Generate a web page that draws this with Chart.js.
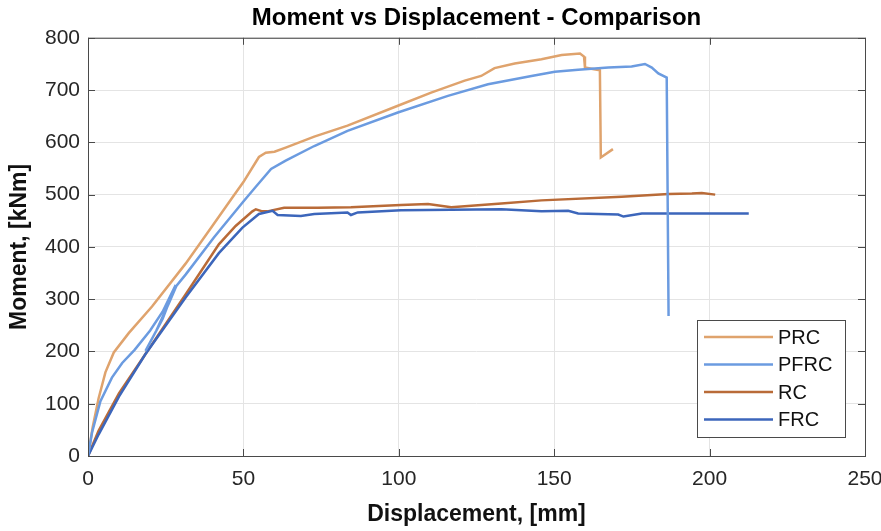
<!DOCTYPE html>
<html>
<head>
<meta charset="utf-8">
<script src="https://cdn.jsdelivr.net/npm/chart.js@4.4.1/dist/chart.umd.min.js"></script>
<style>
  html, body { margin: 0; padding: 0; background: #fff; }
  #wrap { width: 881px; height: 531px; }
</style>
</head>
<body>
<div id="wrap"><canvas id="momentChart"></canvas></div>
<script>
// Moment vs displacement curves
const prcX = [0, 1.5, 3.4, 5.6, 8.3, 13.1, 20.6, 31.4, 40, 46.4, 50, 55, 57.2, 60, 63.6, 72.8, 83.5, 99.7, 110.4, 121.2, 126.5, 130.8, 137.3, 145.9, 152.4, 158.3, 159.6, 159.9, 164.7, 165, 168.9];
const prcY = [0, 55, 110, 160, 198, 235, 286, 368, 440, 494, 524, 572, 580, 582, 590, 611, 632, 670, 695, 718, 727, 742, 751, 759, 767, 770, 764, 743, 738, 571, 587];

const pfrcX = [0, 1.3, 4, 7.7, 11, 15, 20, 24, 28.2, 24, 18.5, 22, 26, 28.5, 31.4, 40.5, 50, 54, 58.9, 63.6, 72.8, 83.5, 99.7, 115.8, 128.7, 142.7, 150.2, 157.7, 167.4, 174.9, 179.2, 181.4, 183.5, 186.2, 186.8];
const pfrcY = [0, 45, 105, 150, 178, 203, 240, 276, 327, 262, 201, 240, 292, 326, 347, 418, 487, 515, 549, 565, 593, 622, 657, 689, 711, 727, 735, 739, 743, 745, 750, 743, 732, 724, 268];

const rcX = [0, 3.4, 10, 18.5, 31.4, 42.1, 47.5, 52.9, 54, 56.1, 57.7, 63.1, 73.9, 84.6, 100.7, 109.4, 116.9, 133, 145.9, 171.7, 186.8, 194.3, 197.5, 201.8];
const rcY = [0, 48, 120, 195, 309, 405, 440, 468, 472, 468, 468, 475, 475, 476, 480, 482, 476, 483, 489, 496, 501, 502, 503, 500];

const frcX = [0, 3.4, 10, 18.5, 31.4, 42.1, 49.7, 55, 59.4, 61, 68.5, 72.8, 83.5, 84.6, 86.8, 100.7, 133, 145.9, 154.5, 157.7, 170.6, 172.3, 178.2, 212.6];
const frcY = [0, 41, 114, 195, 303, 388, 437, 463, 469, 461, 459, 463, 466, 461, 466, 470, 472, 468, 469, 464, 462, 458, 464, 464];

const xTicks = [0, 50, 100, 150, 200, 250];
const yTicks = [0, 100, 200, 300, 400, 500, 600, 700, 800];

const toPoints = (xs, ys) => xs.map((x, i) => ({ x: x, y: ys[i] }));

function makeSet(label, xs, ys, color, order) {
  return {
    label: label,
    data: toPoints(xs, ys),
    borderColor: color,
    backgroundColor: color,
    borderWidth: 2.5,
    pointRadius: 0,
    tension: 0,
    fill: false,
    order: order
  };
}

// MATLAB-like box with inward ticks + in-axes legend
const boxPlugin = {
  id: 'boxAndLegend',
  afterDatasetsDraw(chart) {
    const ctx = chart.ctx;
    const a = chart.chartArea;
    const xs = chart.scales.x, ys = chart.scales.y;
    ctx.save();
    ctx.strokeStyle = '#4a4a4a';
    ctx.lineWidth = 1;
    ctx.strokeRect(a.left + 0.5, a.top + 0.5, a.right - a.left, a.bottom - a.top);
    ctx.beginPath();
    xTicks.forEach(v => {
      const px = Math.round(xs.getPixelForValue(v)) + 0.5;
      ctx.moveTo(px, a.bottom); ctx.lineTo(px, a.bottom - 7);
      ctx.moveTo(px, a.top); ctx.lineTo(px, a.top + 7);
    });
    yTicks.forEach(v => {
      const py = Math.round(ys.getPixelForValue(v)) + 0.5;
      ctx.moveTo(a.left, py); ctx.lineTo(a.left + 7, py);
      ctx.moveTo(a.right, py); ctx.lineTo(a.right - 7, py);
    });
    ctx.stroke();

    // legend
    const w = 148, h = 117;
    const lx = a.right - 20 - w, ly = a.bottom - 19 - h;
    ctx.fillStyle = '#fff';
    ctx.fillRect(lx, ly, w, h);
    ctx.strokeStyle = '#4a4a4a';
    ctx.strokeRect(lx + 0.5, ly + 0.5, w, h);
    ctx.font = '20px "Liberation Sans", Arial, sans-serif';
    ctx.textBaseline = 'middle';
    chart.data.datasets.forEach((ds, i) => {
      const cy = ly + 17 + i * 27.5;
      ctx.strokeStyle = ds.borderColor;
      ctx.lineWidth = 2.5;
      ctx.beginPath();
      ctx.moveTo(lx + 7, cy); ctx.lineTo(lx + 76, cy);
      ctx.stroke();
      ctx.fillStyle = '#111';
      ctx.fillText(ds.label, lx + 81, cy + 1);
    });
    ctx.restore();
  }
};

new Chart(document.getElementById('momentChart'), {
  type: 'line',
  data: {
    datasets: [
      makeSet('PRC', prcX, prcY, '#dfa36d', 2),
      makeSet('PFRC', pfrcX, pfrcY, '#6b9be0', 0),
      makeSet('RC', rcX, rcY, '#b96b38', 3),
      makeSet('FRC', frcX, frcY, '#3c66bb', 1)
    ]
  },
  options: {
    responsive: true,
    maintainAspectRatio: false,
    animation: false,
    layout: { padding: { left: 0, right: 16, top: 0, bottom: 0 } },
    plugins: {
      legend: { display: false },
      tooltip: { enabled: false },
      title: {
        display: true,
        fullSize: false,
        text: 'Moment vs Displacement - Comparison',
        color: '#000',
        font: { family: '"Liberation Sans", Arial, sans-serif', size: 24, weight: 'bold' },
        padding: { top: 4, bottom: 5 }
      }
    },
    scales: {
      x: {
        type: 'linear',
        min: 0, max: 250,
        afterBuildTicks: s => { s.ticks = xTicks.map(v => ({ value: v })); },
        afterFit: s => { s.height = 75; s.paddingLeft = 0; s.paddingRight = 0; },
        grid: { color: '#e4e4e4', drawTicks: false },
        border: { display: false },
        ticks: { color: '#262626', padding: 11, font: { family: '"Liberation Sans", Arial, sans-serif', size: 21 } },
        title: {
          display: true, text: 'Displacement, [mm]', color: '#111',
          font: { family: '"Liberation Sans", Arial, sans-serif', size: 23, weight: 'bold' },
          padding: { top: 0, bottom: 3 }
        }
      },
      y: {
        min: 0, max: 800,
        afterBuildTicks: s => { s.ticks = yTicks.map(v => ({ value: v })); },
        afterFit: s => { s.width = 88; s.paddingTop = 0; s.paddingBottom = 0; },
        grid: { color: '#e4e4e4', drawTicks: false },
        border: { display: false },
        ticks: { color: '#262626', padding: 8, font: { family: '"Liberation Sans", Arial, sans-serif', size: 21 } },
        title: {
          display: true, text: 'Moment, [kNm]', color: '#111',
          font: { family: '"Liberation Sans", Arial, sans-serif', size: 23, weight: 'bold' },
          padding: { top: 6, bottom: 0 }
        }
      }
    }
  },
  plugins: [boxPlugin]
});
</script>
</body>
</html>
